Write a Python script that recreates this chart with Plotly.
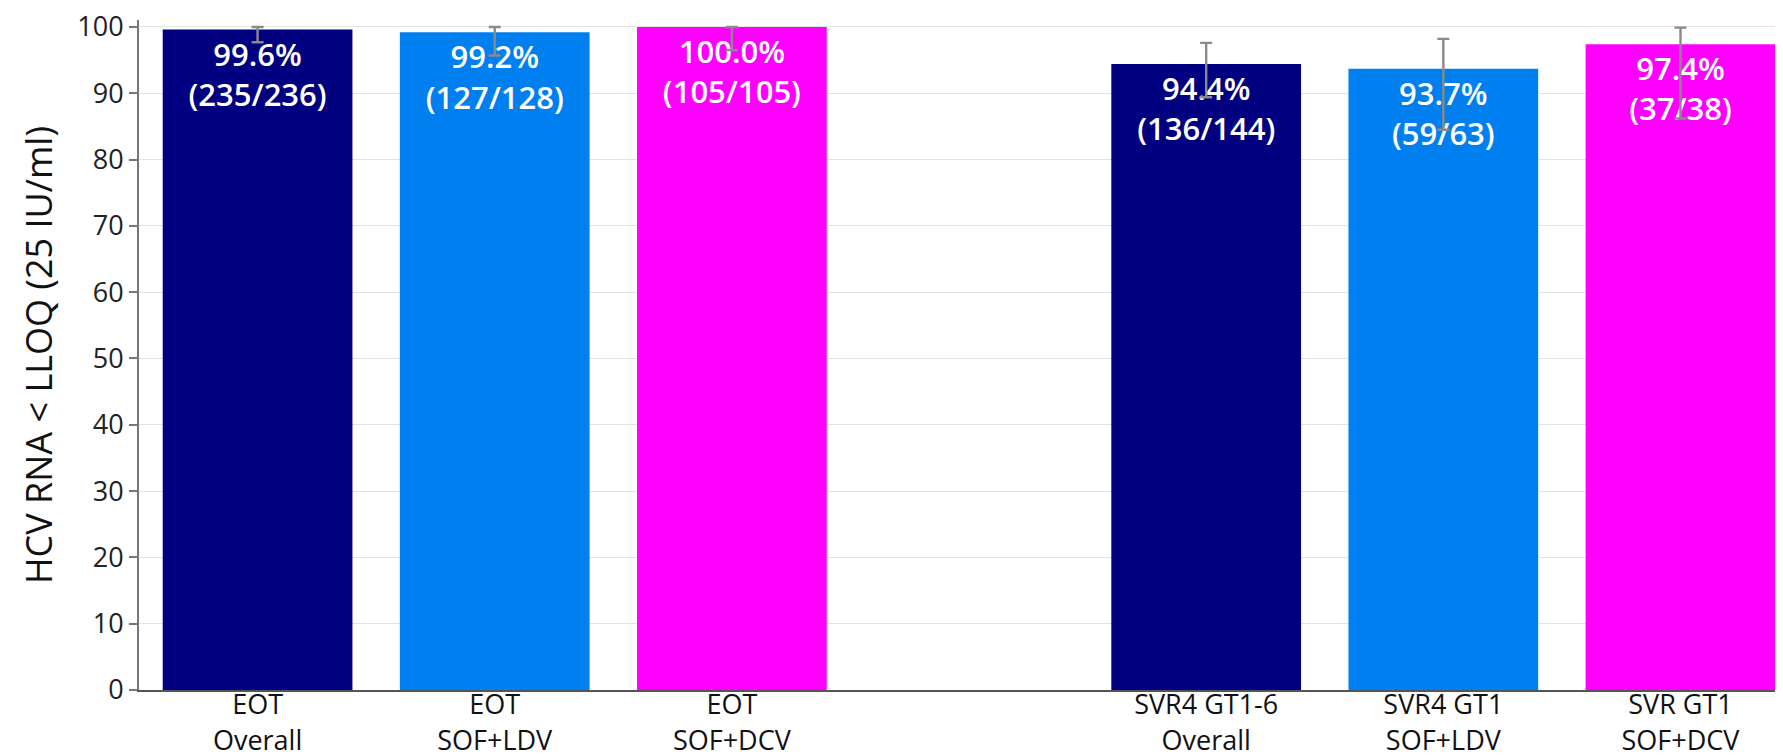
import plotly.graph_objects as go

categories = ["EOT<br>Overall", "EOT<br>SOF+LDV", "EOT<br>SOF+DCV", " ",
              "SVR4 GT1-6<br>Overall", "SVR4 GT1<br>SOF+LDV", "SVR GT1<br>SOF+DCV"]
values = [99.6, 99.2, 100.0, None, 94.4, 93.7, 97.4]
counts = ["(235/236)", "(127/128)", "(105/105)", "", "(136/144)", "(59/63)", "(37/38)"]
ci_low = [97.7, 95.7, 96.5, None, 89.4, 84.5, 86.2]
ci_high = [100.0, 100.0, 100.0, None, 97.6, 98.2, 99.9]
colors = ["#000080", "#0080F0", "#FF00FF", "#FFFFFF", "#000080", "#0080F0", "#FF00FF"]

labels = [f"{v:.1f}%<br>{c}" if v is not None else "" for v, c in zip(values, counts)]
err_plus = [(h - v) if v is not None else None for v, h in zip(values, ci_high)]
err_minus = [(v - l) if v is not None else None for v, l in zip(values, ci_low)]

font_family = "Open Sans, Noto Sans, sans-serif"

fig = go.Figure()
fig.add_trace(go.Bar(
    x=categories, y=values,
    marker=dict(color=colors, line=dict(width=0)),
    text=labels, textposition="inside", insidetextanchor="end",
    textangle=0,
    textfont=dict(family=font_family, size=31, color="white", weight=600),
    error_y=dict(type="data", symmetric=False, array=err_plus, arrayminus=err_minus,
                 color="#8a8a8a", thickness=2.4, width=6),
    cliponaxis=False,
    showlegend=False,
))

fig.update_layout(
    width=1783, height=756, autosize=False,
    margin=dict(l=131, r=0, t=12, b=74),
    paper_bgcolor="white", plot_bgcolor="white",
    bargap=0.2,
    font=dict(family=font_family, color="#222"),
)
fig.update_xaxes(
    type="category", range=[-0.5, 6.466],
    showline=True, linecolor="#555", linewidth=2,
    ticks="", ticklen=0, showgrid=False,
    ticklabelstandoff=-10,
    ticklabeloverflow="allow",
    tickfont=dict(family=font_family, size=27, color="#111"),
    automargin=False,
)
fig.update_yaxes(
    range=[0, 101.05], tickmode="array", tickvals=list(range(0, 101, 10)),
    showline=True, linecolor="#777", linewidth=2,
    ticks="outside", ticklen=8, tickcolor="#777", tickwidth=1.5,
    showgrid=True, gridcolor="#e3e3e3", gridwidth=1,
    zeroline=False,
    ticklabeloverflow="allow",
    tickfont=dict(family=font_family, size=27, color="#222"),
    title=dict(text="HCV RNA < LLOQ (25 IU/ml)", standoff=14,
               font=dict(family=font_family, size=36, color="#111")),
    automargin=False,
)

fig.write_html("out.html")
